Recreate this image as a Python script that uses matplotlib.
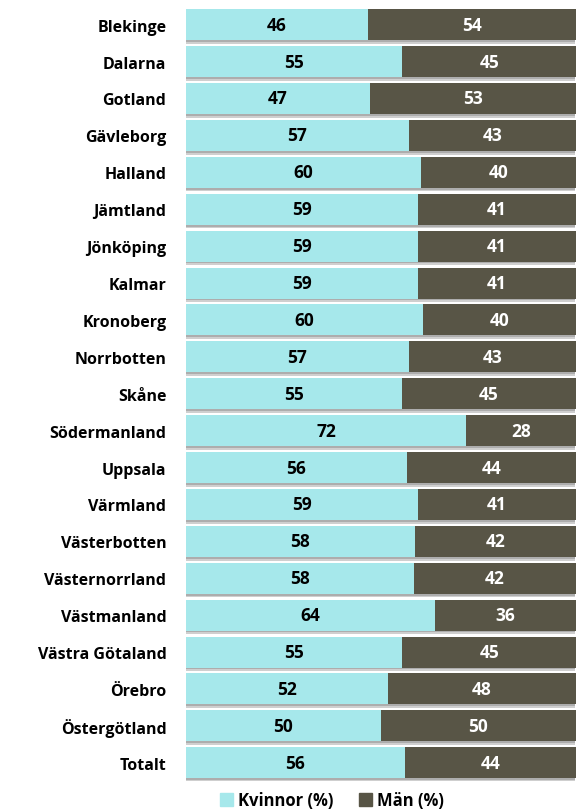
import matplotlib.pyplot as plt
from matplotlib.patches import Patch

# Data
lan = ["Blekinge", "Dalarna", "Gotland", "Gävleborg", "Halland", "Jämtland",
       "Jönköping", "Kalmar", "Kronoberg", "Norrbotten", "Skåne",
       "Södermanland", "Uppsala", "Värmland", "Västerbotten",
       "Västernorrland", "Västmanland", "Västra Götaland", "Örebro",
       "Östergötland", "Totalt"]
kvinnor = [46.7, 55.5, 47.1, 57.2, 60.2, 59.5, 59.4, 59.5, 60.8, 57.1, 55.3,
           71.9, 56.6, 59.5, 58.7, 58.5, 64.0, 55.5, 51.8, 50.0, 56.2]
kvinnor_lbl = [46, 55, 47, 57, 60, 59, 59, 59, 60, 57, 55, 72, 56, 59, 58, 58,
               64, 55, 52, 50, 56]
man_lbl = [54, 45, 53, 43, 40, 41, 41, 41, 40, 43, 45, 28, 44, 41, 42, 42,
           36, 45, 48, 50, 44]
man = [100 - k for k in kvinnor]

cyan = "#a6e8eb"
dark = "#585546"

plt.rcParams['font.family'] = ['Open Sans', 'DejaVu Sans']

fig = plt.figure(figsize=(5.76, 8.12), dpi=100)
ax = fig.add_axes([185.7 / 576, 0.0367, 1 - 185.7 / 576, 0.9544])

y = list(range(len(lan)))
h = 0.84

# soft shadow under the bars
ax.barh([v + 0.10 for v in y], [100] * len(y), height=h, left=-0.3,
        color="#cfcfcf", zorder=1)
ax.barh([v + 0.05 for v in y], [100] * len(y), height=h, left=-0.15,
        color="#adadad", zorder=1)

ax.barh(y, kvinnor, height=h, color=cyan, zorder=2)
ax.barh(y, man, height=h, left=kvinnor, color=dark, zorder=2)

for i in y:
    ax.text(kvinnor[i] / 2, i, str(kvinnor_lbl[i]), ha="center", va="center",
            fontsize=12.5, fontweight="bold", color="black", zorder=3)
    ax.text(kvinnor[i] + man[i] / 2, i, str(man_lbl[i]), ha="center",
            va="center", fontsize=12.5, fontweight="bold", color="white",
            zorder=3)

ax.set_xlim(0, 100)
ax.set_ylim(len(lan) - 0.5, -0.5)
ax.set_yticks(y)
ax.set_yticklabels(lan, fontsize=11.5, fontweight="bold")
ax.tick_params(axis="y", length=0, pad=14)
ax.set_xticks([])
for s in ax.spines.values():
    s.set_visible(False)
ax.patch.set_alpha(0)

handles = [Patch(color=cyan, label="Kvinnor (%)"),
           Patch(color=dark, label="Män (%)")]
fig.legend(handles=handles, loc="center", bbox_to_anchor=(332 / 576, 11 / 812),
           ncol=2, frameon=False, prop={"size": 12, "weight": "bold"},
           handlelength=0.8, handleheight=0.8, handletextpad=0.3,
           columnspacing=1.5)

fig.savefig("out.png", dpi=100)
